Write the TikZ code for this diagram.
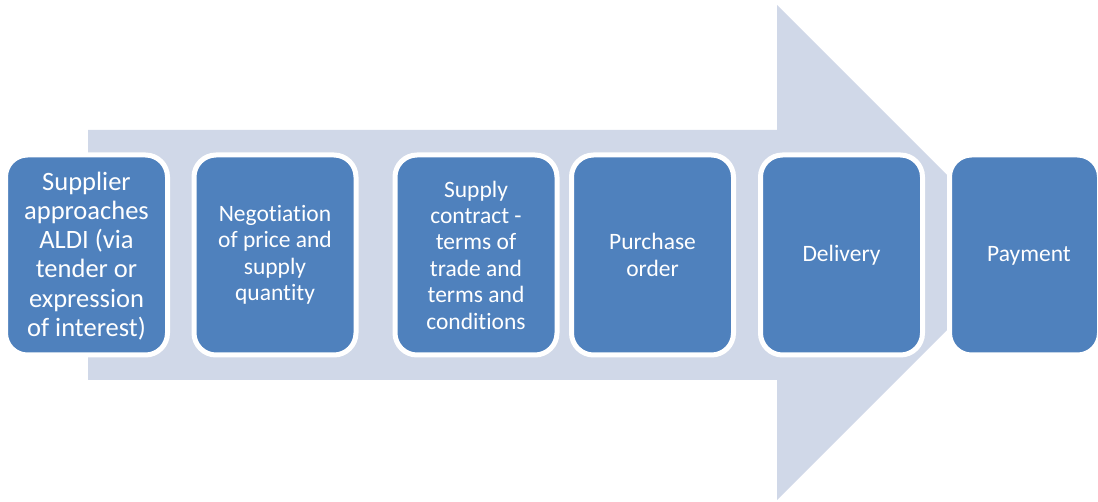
\documentclass[tikz,border=0pt]{standalone}
\usepackage{fontspec}
\setmainfont{Carlito}[Ligatures={NoCommon}]
\definecolor{boxblue}{HTML}{4F81BD}
\definecolor{arrowbg}{HTML}{D0D8E8}
\begin{document}
\begin{tikzpicture}[x=1pt,y=-1pt,
  stepbox/.style={draw=white, line width=5pt, fill=boxblue, rounded corners=22pt,
    minimum width=162pt, minimum height=200pt, inner sep=0pt, align=center,
    text=white, font=\fontsize{23.5}{26.4}\selectfont},
  bigtext/.style={font=\fontsize{26.5}{29.2}\selectfont}]
\useasboundingbox (0,0) rectangle (1098,502);
\fill[arrowbg] (88,130) -- (777,130) -- (777,5) -- (1024.5,252.5) -- (777,500) -- (777,380) -- (88,380) -- cycle;
\node[stepbox, bigtext] (s1) at (86.5,255) {\strut\smash{Supplier}\\approaches\\ALDI (via\\tender or\\expression\\of interest)};
\node[stepbox] (s2) at (275,255) {Negotiation\\of price and\\supply\\quantity};
\node[stepbox] (s3) at (476,255) {Supply\\contract -\\terms of\\trade and\\terms and\\conditions};
\node[stepbox] (s4) at (652.5,255) {Purchase\\order};
\node[stepbox] (s5) at (841.5,255) {Delivery};
\node[stepbox, minimum width=150pt] (s6) at (1024.5,255) {};
\node[text=white, font=\fontsize{23.5}{26.4}\selectfont] (s6t) at (1029,256) {Payment};
\end{tikzpicture}
\end{document}
